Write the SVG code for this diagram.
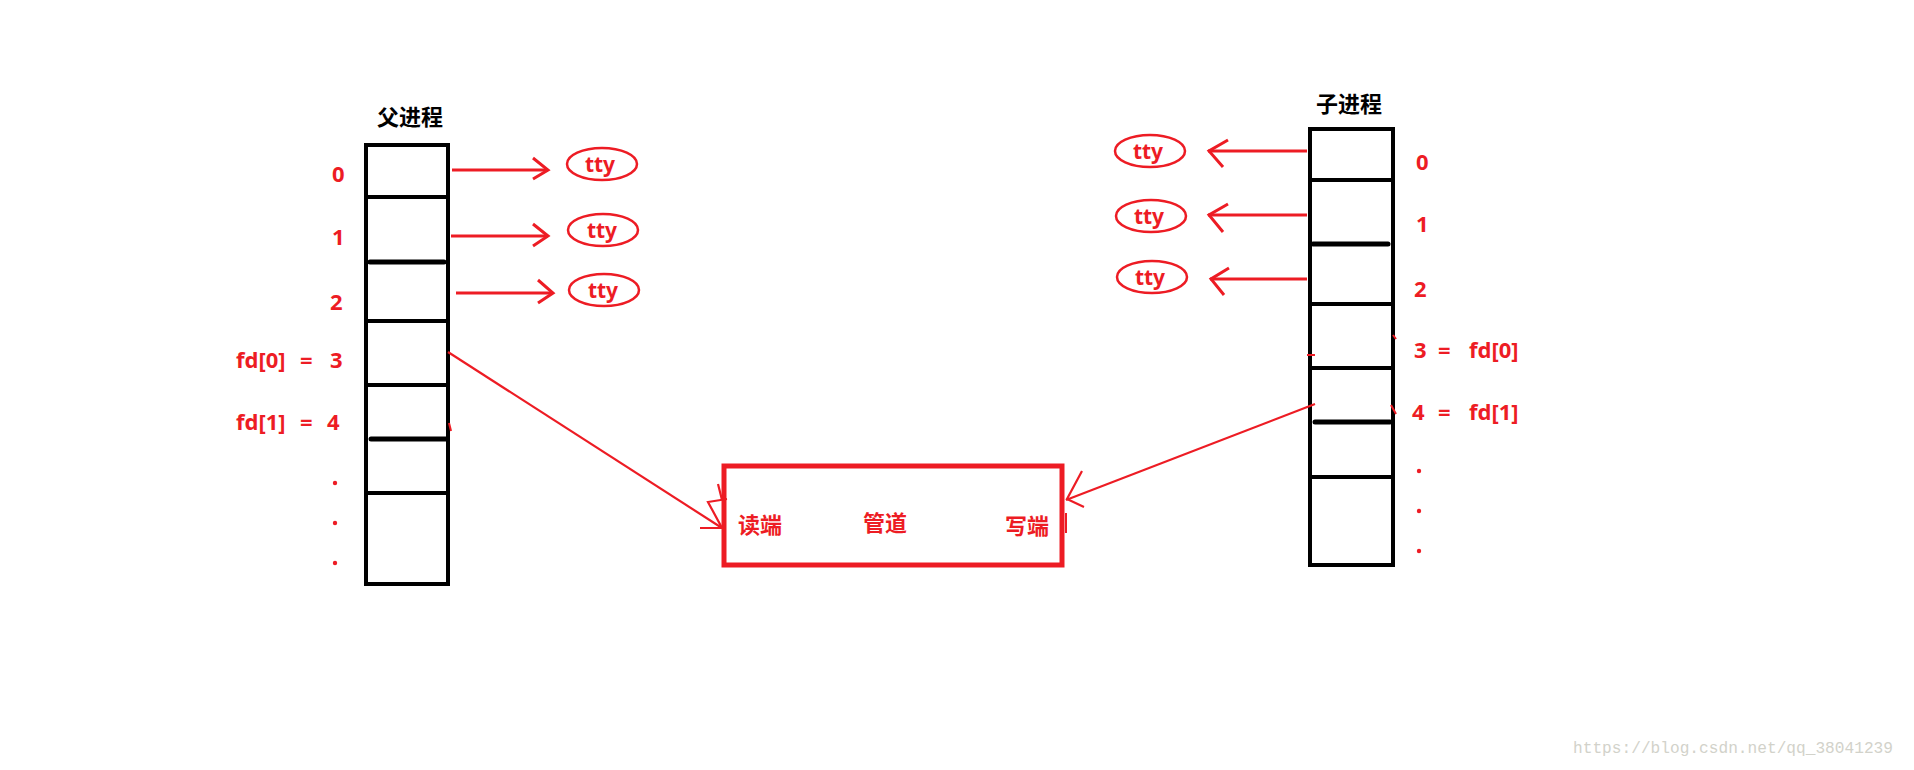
<svg xmlns="http://www.w3.org/2000/svg" width="1914" height="770" viewBox="0 0 1914 770">
<style>
.box{fill:none;stroke:#000;stroke-width:4}
.div{stroke:#000;stroke-width:4}
.divs{stroke:#000;stroke-width:5;stroke-linecap:round}
.title{font-family:"Noto Sans CJK SC","Noto Sans",sans-serif;font-weight:bold;font-size:22px;fill:#000;text-anchor:middle}
.lbl{font-family:"Noto Sans","Noto Sans CJK SC",sans-serif;font-weight:bold;font-size:22px;fill:#ed1c24}
.cjk{font-family:"Noto Sans CJK SC","Noto Sans",sans-serif;font-weight:bold;font-size:22px;fill:#ed1c24}
.tty{fill:none;stroke:#ed1c24;stroke-width:2.5}
.ttyt{font-family:"Noto Sans","Noto Sans CJK SC",sans-serif;font-weight:bold;font-size:21px;fill:#ed1c24;text-anchor:middle}
.ar{fill:none;stroke:#ed1c24;stroke-width:3}
.ar2{fill:none;stroke:#ed1c24;stroke-width:2.2}
.dot{fill:#ed1c24}
.tick{stroke:#ed1c24;stroke-width:2}
.wm{font-family:"Liberation Mono",monospace;font-size:16px;fill:#d2d2ca}
</style>
<rect width="1914" height="770" fill="#fff"/>

<g id="parent">
<text class="title" x="410" y="125">父进程</text>
<rect class="box" x="366" y="145" width="82" height="439"/>
<line class="div" x1="366" y1="197" x2="448" y2="197"/>
<line class="divs" x1="370" y1="262" x2="444" y2="262"/>
<line class="div" x1="366" y1="321" x2="448" y2="321"/>
<line class="div" x1="366" y1="385" x2="448" y2="385"/>
<line class="divs" x1="371" y1="439" x2="447" y2="439"/>
<line class="div" x1="366" y1="493" x2="448" y2="493"/>
<text class="lbl" x="332" y="182">0</text>
<text class="lbl" x="332" y="245">1</text>
<text class="lbl" x="330" y="310">2</text>
<text class="lbl" x="236" y="368">fd[0]</text>
<text class="lbl" x="300" y="368">=</text>
<text class="lbl" x="330" y="368">3</text>
<text class="lbl" x="236" y="430">fd[1]</text>
<text class="lbl" x="300" y="430">=</text>
<text class="lbl" x="327" y="430">4</text>
<circle class="dot" cx="335" cy="483" r="2.2"/>
<circle class="dot" cx="335" cy="523" r="2.2"/>
<circle class="dot" cx="335" cy="563" r="2.2"/>
</g>

<g id="child">
<text class="title" x="1349" y="112">子进程</text>
<rect class="box" x="1310" y="129" width="83" height="436"/>
<line class="div" x1="1310" y1="180" x2="1393" y2="180"/>
<line class="divs" x1="1313" y1="244" x2="1388" y2="244"/>
<line class="div" x1="1310" y1="304" x2="1393" y2="304"/>
<line class="div" x1="1310" y1="368" x2="1393" y2="368"/>
<line class="divs" x1="1315" y1="422" x2="1390" y2="422"/>
<line class="div" x1="1310" y1="477" x2="1393" y2="477"/>
<text class="lbl" x="1416" y="170">0</text>
<text class="lbl" x="1416" y="232">1</text>
<text class="lbl" x="1414" y="297">2</text>
<text class="lbl" x="1414" y="358">3</text>
<text class="lbl" x="1438" y="358">=</text>
<text class="lbl" x="1469" y="358">fd[0]</text>
<text class="lbl" x="1412" y="420">4</text>
<text class="lbl" x="1438" y="420">=</text>
<text class="lbl" x="1469" y="420">fd[1]</text>
<circle class="dot" cx="1419" cy="471" r="2.2"/>
<circle class="dot" cx="1419" cy="511" r="2.2"/>
<circle class="dot" cx="1419" cy="551" r="2.2"/>
</g>

<g id="pipe">
<rect x="724" y="466" width="338" height="99" fill="none" stroke="#ed1c24" stroke-width="5"/>
<text class="cjk" x="738" y="533">读端</text>
<text class="cjk" x="863" y="531">管道</text>
<text class="cjk" x="1005" y="534">写端</text>
</g>

<g id="tty-p0"><ellipse class="tty" cx="602" cy="164" rx="35" ry="16"/><text class="ttyt" x="600" y="172">tty</text></g>
<g id="tty-p1"><ellipse class="tty" cx="603" cy="230" rx="35" ry="16"/><text class="ttyt" x="602" y="238">tty</text></g>
<g id="tty-p2"><ellipse class="tty" cx="604" cy="290" rx="35" ry="16"/><text class="ttyt" x="603" y="298">tty</text></g>
<g id="tty-c0"><ellipse class="tty" cx="1150" cy="151" rx="35" ry="16"/><text class="ttyt" x="1148" y="159">tty</text></g>
<g id="tty-c1"><ellipse class="tty" cx="1151" cy="216" rx="35" ry="16"/><text class="ttyt" x="1149" y="224">tty</text></g>
<g id="tty-c2"><ellipse class="tty" cx="1152" cy="277" rx="35" ry="16"/><text class="ttyt" x="1150" y="285">tty</text></g>

<g id="connectors">
<line class="ar" x1="452" y1="170" x2="548" y2="170"/><polyline class="ar" points="533,158 548,170 533,179"/>
<line class="ar" x1="451" y1="236" x2="548" y2="236"/><polyline class="ar" points="533,224 548,236 533,246"/>
<line class="ar" x1="456" y1="293" x2="553" y2="293"/><polyline class="ar" points="538,280 553,293 538,303"/>
<line class="ar" x1="1307" y1="151" x2="1208" y2="151"/><polyline class="ar" points="1228,140 1209,151 1223,167"/>
<line class="ar" x1="1307" y1="215" x2="1208" y2="215"/><polyline class="ar" points="1228,204 1209,215 1223,232"/>
<line class="ar" x1="1307" y1="279" x2="1210" y2="279"/><polyline class="ar" points="1229,268 1211,279 1224,295"/>
<line class="ar2" x1="448" y1="352" x2="722" y2="528"/>
<polyline class="ar2" points="700,528 722,528 708,502 727,499"/>
<line class="ar2" x1="718" y1="484" x2="722" y2="500"/>
<line class="ar2" x1="1315" y1="404" x2="1066" y2="500"/>
<polyline class="ar2" points="1082,471 1067,499 1084,507"/>
</g>

<g id="marks">
<line class="tick" x1="449" y1="423" x2="451" y2="431"/>
<line class="tick" x1="1307" y1="355" x2="1315" y2="355"/>
<line class="tick" x1="1393" y1="335" x2="1396" y2="339"/>
<line class="tick" x1="1391" y1="405" x2="1396" y2="414"/>
<line class="tick" x1="1066" y1="513" x2="1066" y2="533"/>
</g>

<g id="watermark">
<text class="wm" x="1573" y="753" textLength="320" lengthAdjust="spacingAndGlyphs">https://blog.csdn.net/qq_38041239</text>
</g>
</svg>
